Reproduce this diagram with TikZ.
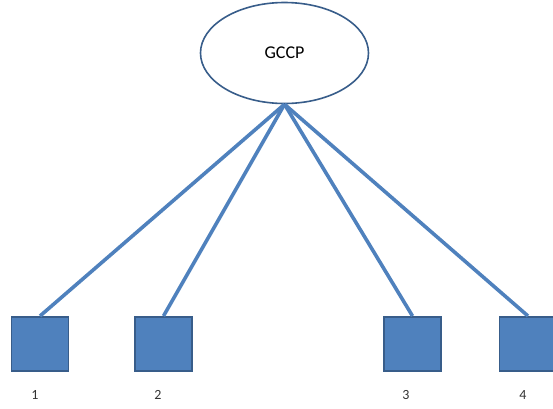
\documentclass[tikz,border=0pt]{standalone}
\usepackage{fontspec}
\setmainfont{Carlito}
\usetikzlibrary{shapes.geometric}
\definecolor{boxfill}{HTML}{4F81BD}
\definecolor{boxline}{HTML}{385D8A}
\begin{document}
\begin{tikzpicture}[x=1pt,y=-1pt,
  sq/.style={draw=boxline,line width=1.5pt,fill=boxfill,minimum width=57pt,minimum height=54pt,inner sep=0pt,anchor=north},
  link/.style={draw=boxfill,line width=3.6pt},
  lab/.style={font=\fontsize{14}{16}\selectfont,text=black!80}]
\useasboundingbox (0,0) rectangle (553,408);
\begin{scope}
\clip (0,0) rectangle (553,408);
\node[ellipse,draw=boxline,line width=1.6pt,fill=white,minimum width=168pt,minimum height=101pt,inner sep=0pt,font=\fontsize{18}{20}\selectfont] (g) at (284.5,53) {GCCP};
\node[sq] (s1) at (40,316) {};
\node[sq] (s2) at (163.5,316) {};
\node[sq] (s3) at (412.5,316) {};
\node[sq] (s4) at (528,316) {};
\draw[link] (g.south) -- (s1.north);
\draw[link] (g.south) -- (s2.north);
\draw[link] (g.south) -- (s3.north);
\draw[link] (g.south) -- (s4.north);
\node[lab] (l1) at (35,395) {1};
\node[lab] (l2) at (158,395) {2};
\node[lab] (l3) at (406,395) {3};
\node[lab] (l4) at (523,395) {4};
\end{scope}
\end{tikzpicture}
\end{document}
